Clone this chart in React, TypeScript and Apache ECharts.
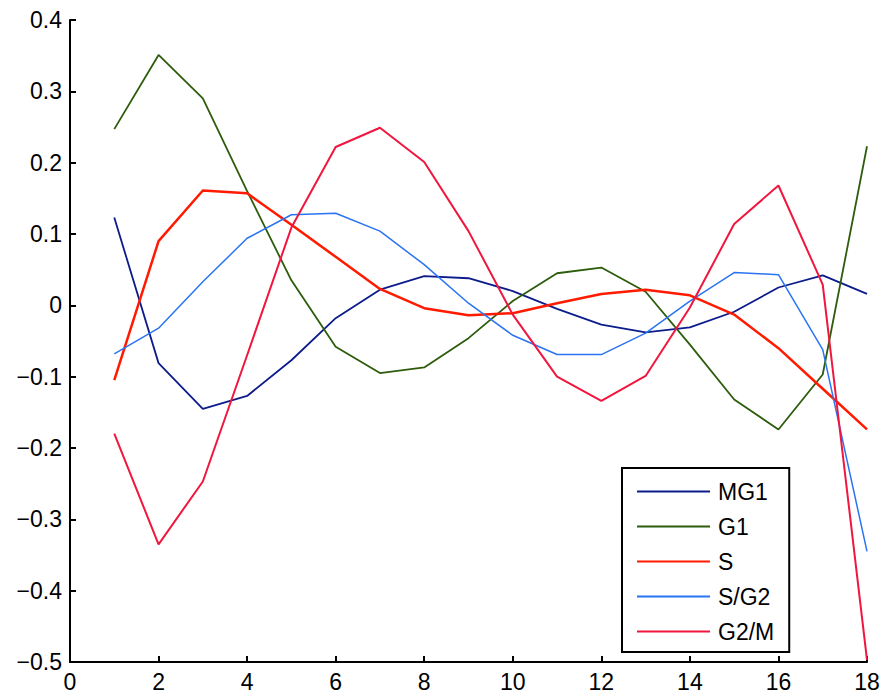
import React, { useEffect, useRef } from "react";
import * as echarts from "echarts";

// Sample index along the x axis
const steps = [1, 2, 3, 4, 5, 6, 7, 8, 9, 10, 11, 12, 13, 14, 15, 16, 17, 18];

// Phase profiles
const mg1 = [0.123, -0.081, -0.145, -0.127, -0.077, -0.018, 0.022, 0.041, 0.038, 0.02, -0.005, -0.027, -0.038, -0.031, -0.009, 0.025, 0.042, 0.016];
const g1 = [0.247, 0.351, 0.29, 0.16, 0.035, -0.058, -0.095, -0.087, -0.046, 0.006, 0.045, 0.053, 0.019, -0.055, -0.132, -0.174, -0.097, 0.223];
const sPhase = [-0.105, 0.09, 0.161, 0.157, 0.113, 0.068, 0.023, -0.004, -0.014, -0.011, 0.003, 0.016, 0.022, 0.014, -0.013, -0.06, -0.117, -0.174];
const sg2 = [-0.068, -0.032, 0.033, 0.094, 0.127, 0.129, 0.104, 0.057, 0.003, -0.042, -0.069, -0.069, -0.039, 0.006, 0.046, 0.043, -0.062, -0.345];
const g2m = [-0.18, -0.335, -0.247, -0.07, 0.109, 0.222, 0.249, 0.201, 0.104, -0.013, -0.1, -0.134, -0.099, -0.003, 0.114, 0.168, 0.029, -0.497];

const seriesNames = ["MG1", "G1", "S", "S/G2", "G2/M"];
const seriesValues = [mg1, g1, sPhase, sg2, g2m];
const seriesColors = ["#0c1c8a", "#2d5c0c", "#ff1a00", "#2a74f2", "#f0163e"];
const seriesWidths = [1.8, 1.8, 2.5, 1.5, 2];

const FONT = "'Liberation Sans', Arial, Helvetica, sans-serif";

function fmtY(v: number): string {
  if (Math.abs(v) < 1e-9) return "0";
  const s = Math.abs(v).toFixed(1);
  return v < 0 ? "\u2212" + s : s;
}

export default function App() {
  const ref = useRef<HTMLDivElement>(null);

  useEffect(() => {
    if (!ref.current) return;
    const chart = echarts.init(ref.current, undefined, { renderer: "svg" });
    chart.setOption({
      animation: false,
      backgroundColor: "#ffffff",
      grid: { left: 70, right: 18, top: 20, bottom: 34, containLabel: false },
      xAxis: {
        type: "value",
        min: 0,
        max: 18,
        interval: 2,
        axisLine: { show: true, onZero: false, lineStyle: { color: "#000", width: 2 } },
        axisTick: { show: true, inside: true, length: 6, lineStyle: { color: "#000", width: 2 } },
        axisLabel: { color: "#000", fontSize: 23, fontFamily: FONT, margin: 8 },
        splitLine: { show: false },
      },
      yAxis: {
        type: "value",
        min: -0.5,
        max: 0.4,
        interval: 0.1,
        axisLine: { show: true, onZero: false, lineStyle: { color: "#000", width: 2 } },
        axisTick: { show: true, inside: true, length: 6, lineStyle: { color: "#000", width: 2 } },
        axisLabel: { color: "#000", fontSize: 23, fontFamily: FONT, margin: 8, formatter: fmtY },
        splitLine: { show: false },
      },
      legend: {
        orient: "vertical",
        left: 622,
        top: 468,
        data: seriesNames,
        icon: "rect",
        backgroundColor: "#ffffff",
        borderColor: "#000",
        borderWidth: 2,
        borderRadius: 0,
        padding: [12, 15, 9, 15],
        itemWidth: 73,
        itemHeight: 2,
        itemGap: 12,
        textStyle: {
          color: "#000",
          fontSize: 23,
          fontFamily: FONT,
          padding: [0, 0, 0, 3],
        },
      },
      series: seriesNames.map((name, i) => ({
        name,
        type: "line",
        symbol: "none",
        data: steps.map((x, j) => [x, seriesValues[i][j]]),
        lineStyle: { color: seriesColors[i], width: seriesWidths[i] },
        itemStyle: { color: seriesColors[i] },
      })),
    });
    return () => chart.dispose();
  }, []);

  return (
    <div
      ref={ref}
      style={{ position: "fixed", left: 0, top: 0, width: 885, height: 696, background: "#fff" }}
    />
  );
}
